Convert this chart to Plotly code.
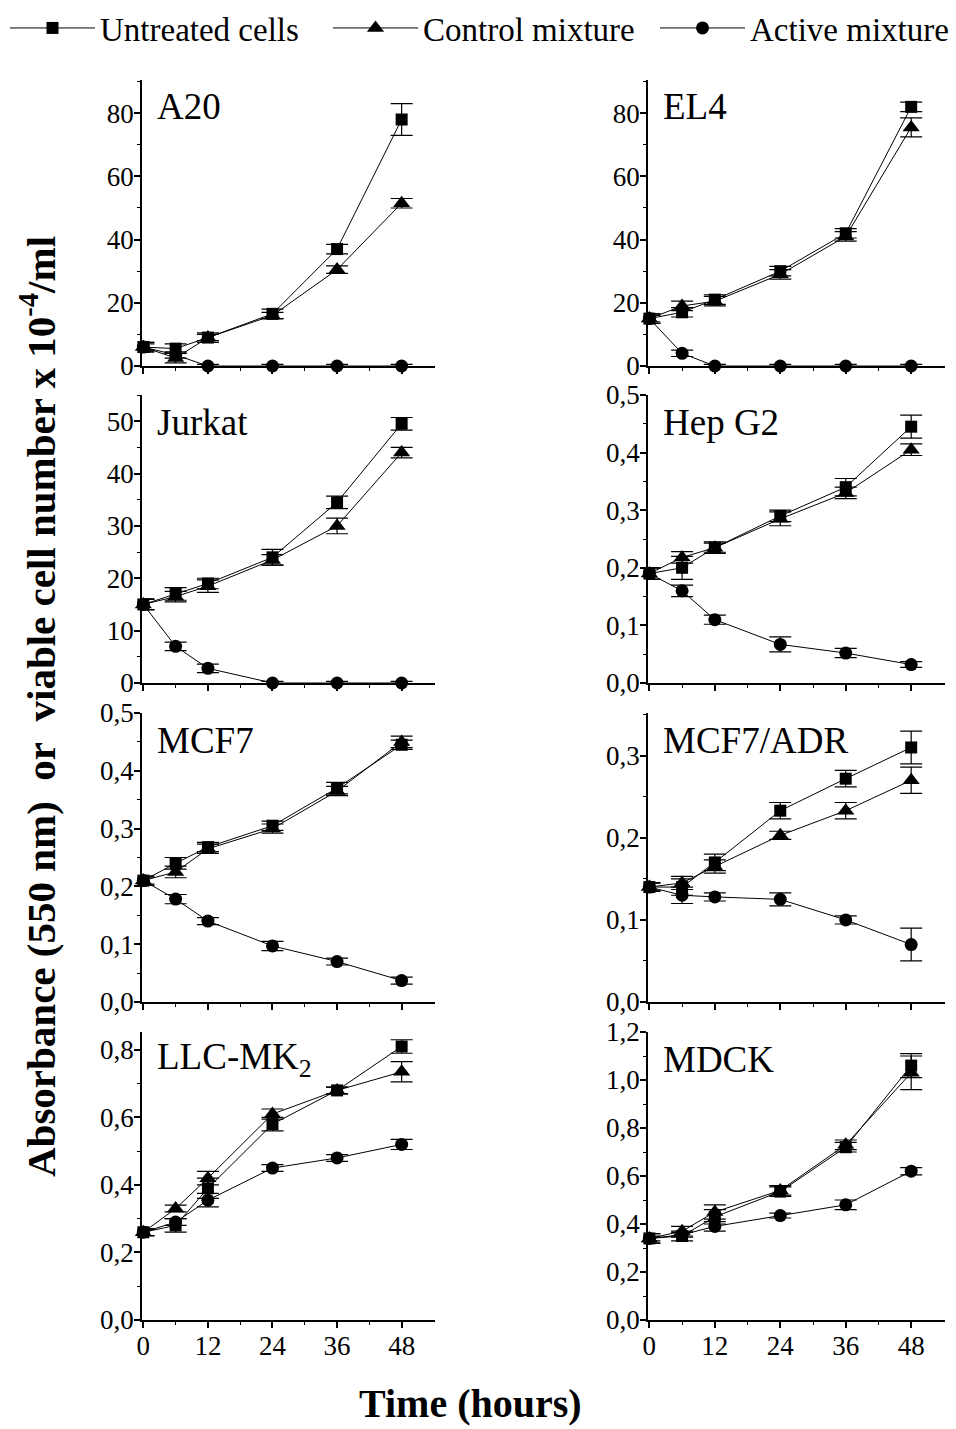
import plotly.graph_objects as go

# ---------------- data ----------------
time_h = [0, 6, 12, 24, 36, 48]
series_names = ["Untreated cells", "Control mixture", "Active mixture"]
panel_names = ["A20", "EL4", "Jurkat", "Hep G2", "MCF7", "MCF7/ADR",
               "LLC-MK<sub>2</sub>", "MDCK"]

a20_untreated = [6, 5.5, 9, 16.5, 37, 78]
a20_untreated_err = [1.5, 1.5, 1.5, 1.5, 1.5, 5]
a20_control = [6, 2.5, 9, 16, 30.5, 51.5]
a20_control_err = [1.5, 1.5, 1, 1, 1.2, 1.5]
a20_active = [6, 3.5, 0, 0, 0, 0]
a20_active_err = [1, 1, 0.5, 0.5, 0.5, 0.5]

el4_untreated = [15, 17, 21, 30, 42, 82]
el4_untreated_err = [1.5, 1.5, 1.5, 1.5, 1.5, 1.5]
el4_control = [15, 19, 20.5, 29, 41, 75.5]
el4_control_err = [1.5, 1.5, 1.5, 1.5, 1.5, 3]
el4_active = [15, 4, 0, 0, 0, 0]
el4_active_err = [1, 1, 0.5, 0.5, 0.5, 0.5]

jurkat_untreated = [15, 17, 19, 24, 34.5, 49.5]
jurkat_untreated_err = [1, 1.2, 1, 1.5, 1.2, 1.2]
jurkat_control = [15, 16.5, 18.5, 23.5, 30, 44]
jurkat_control_err = [1, 1, 1.2, 1, 1.5, 1]
jurkat_active = [15, 7, 2.8, 0, 0, 0]
jurkat_active_err = [1, 0.8, 0.8, 0.3, 0.3, 0.3]

hepg2_untreated = [0.19, 0.20, 0.235, 0.29, 0.34, 0.445]
hepg2_untreated_err = [0.01, 0.02, 0.008, 0.01, 0.015, 0.02]
hepg2_control = [0.19, 0.218, 0.235, 0.285, 0.33, 0.405]
hepg2_control_err = [0.01, 0.01, 0.01, 0.012, 0.01, 0.01]
hepg2_active = [0.19, 0.16, 0.11, 0.067, 0.052, 0.032]
hepg2_active_err = [0.01, 0.01, 0.008, 0.013, 0.008, 0.005]

mcf7_untreated = [0.21, 0.24, 0.268, 0.305, 0.37, 0.445]
mcf7_untreated_err = [0.008, 0.01, 0.008, 0.008, 0.01, 0.008]
mcf7_control = [0.21, 0.225, 0.265, 0.30, 0.365, 0.45]
mcf7_control_err = [0.008, 0.01, 0.008, 0.008, 0.008, 0.01]
mcf7_active = [0.21, 0.178, 0.14, 0.097, 0.07, 0.037]
mcf7_active_err = [0.006, 0.008, 0.006, 0.008, 0.006, 0.006]

mcf7adr_untreated = [0.14, 0.14, 0.17, 0.233, 0.272, 0.31]
mcf7adr_untreated_err = [0.005, 0.01, 0.01, 0.01, 0.01, 0.02]
mcf7adr_control = [0.14, 0.145, 0.165, 0.203, 0.233, 0.27]
mcf7adr_control_err = [0.005, 0.008, 0.008, 0.005, 0.01, 0.016]
mcf7adr_active = [0.14, 0.13, 0.128, 0.125, 0.10, 0.07]
mcf7adr_active_err = [0.005, 0.01, 0.005, 0.008, 0.005, 0.02]

llcmk2_untreated = [0.26, 0.28, 0.39, 0.58, 0.68, 0.81]
llcmk2_untreated_err = [0.01, 0.02, 0.03, 0.02, 0.01, 0.02]
llcmk2_control = [0.26, 0.33, 0.42, 0.61, 0.68, 0.735]
llcmk2_control_err = [0.01, 0.01, 0.02, 0.015, 0.01, 0.03]
llcmk2_active = [0.26, 0.29, 0.355, 0.45, 0.48, 0.52]
llcmk2_active_err = [0.01, 0.01, 0.02, 0.01, 0.01, 0.015]

mdck_untreated = [0.34, 0.35, 0.43, 0.535, 0.72, 1.06]
mdck_untreated_err = [0.02, 0.02, 0.03, 0.02, 0.02, 0.05]
mdck_control = [0.34, 0.37, 0.45, 0.54, 0.73, 1.03]
mdck_control_err = [0.02, 0.02, 0.03, 0.02, 0.02, 0.07]
mdck_active = [0.34, 0.355, 0.39, 0.435, 0.48, 0.62]
mdck_active_err = [0.01, 0.01, 0.02, 0.01, 0.02, 0.015]

x_ticks = [0, 12, 24, 36, 48]
x_minor_ticks = [6, 18, 30, 42]

# y axis settings per panel
y_max = [90.5, 90.5, 55, 0.5, 0.5, 0.352, 0.853, 1.2]
y_dtick = [20, 20, 10, 0.1, 0.1, 0.1, 0.2, 0.2]
y_minor = [10, 10, 5, 0.05, 0.05, 0.05, 0.1, 0.1]
y_format = ["d", "d", "d", ".1f", ".1f", ".1f", ".1f", ".1f"]

panels = [
    [(a20_untreated, a20_untreated_err), (a20_control, a20_control_err), (a20_active, a20_active_err)],
    [(el4_untreated, el4_untreated_err), (el4_control, el4_control_err), (el4_active, el4_active_err)],
    [(jurkat_untreated, jurkat_untreated_err), (jurkat_control, jurkat_control_err), (jurkat_active, jurkat_active_err)],
    [(hepg2_untreated, hepg2_untreated_err), (hepg2_control, hepg2_control_err), (hepg2_active, hepg2_active_err)],
    [(mcf7_untreated, mcf7_untreated_err), (mcf7_control, mcf7_control_err), (mcf7_active, mcf7_active_err)],
    [(mcf7adr_untreated, mcf7adr_untreated_err), (mcf7adr_control, mcf7adr_control_err), (mcf7adr_active, mcf7adr_active_err)],
    [(llcmk2_untreated, llcmk2_untreated_err), (llcmk2_control, llcmk2_control_err), (llcmk2_active, llcmk2_active_err)],
    [(mdck_untreated, mdck_untreated_err), (mdck_control, mdck_control_err), (mdck_active, mdck_active_err)],
]

# ---------------- layout geometry ----------------
W, H = 956, 1429
col_px = [(142, 435), (648, 945)]
row_px = [(80, 366), (395, 683), (713, 1002), (1032, 1320)]
legend_left_px = [5, 328, 655]
legend_ids = ["legend", "legend2", "legend3"]

FONT = "Liberation Serif"
symbols = ["square", "triangle-up", "circle"]
sizes = [12, 15, 13]

fig = go.Figure()
layout = {}
annotations = []

for i, name in enumerate(panel_names):
    r, c = divmod(i, 2)
    k = i + 1
    xa = "x" if k == 1 else f"x{k}"
    ya = "y" if k == 1 else f"y{k}"
    for s in range(3):
        vals, errs = panels[i][s]
        fig.add_trace(go.Scatter(
            x=time_h, y=vals, xaxis=xa, yaxis=ya,
            mode="lines+markers", name=series_names[s],
            legend=legend_ids[s], legendgroup=series_names[s],
            showlegend=(i == 0),
            line=dict(color="black", width=1),
            marker=dict(symbol=symbols[s], size=sizes[s], color="black"),
            error_y=dict(type="data", array=errs, color="black",
                         thickness=1.2, width=11),
            cliponaxis=False,
        ))
    x0, x1 = col_px[c]
    y0, y1 = row_px[r]
    layout[f"xaxis{k}" if k > 1 else "xaxis"] = dict(
        domain=[x0 / W, x1 / W], range=[-0.25, 54.2], anchor=ya,
        showline=True, linecolor="black", linewidth=1.5,
        ticks="outside", ticklen=6, tickwidth=1.5, tickcolor="black",
        tickvals=x_ticks, showticklabels=(r == 3), ticklabelstandoff=-5,
        minor=dict(tickvals=x_minor_ticks, ticks="outside", ticklen=3,
                   tickwidth=1.2, tickcolor="black"),
        showgrid=False, zeroline=False,
        tickfont=dict(family=FONT, size=27, color="black"),
    )
    layout[f"yaxis{k}" if k > 1 else "yaxis"] = dict(
        domain=[1 - y1 / H, 1 - y0 / H], range=[0, y_max[i]], anchor=xa,
        showline=True, linecolor="black", linewidth=1.5,
        ticks="outside", ticklen=6, tickwidth=1.5, tickcolor="black",
        dtick=y_dtick[i], tick0=0, tickformat=y_format[i],
        ticklabelstandoff=-5,
        minor=dict(dtick=y_minor[i], ticks="outside", ticklen=3,
                   tickwidth=1.2, tickcolor="black"),
        showgrid=False, zeroline=False,
        tickfont=dict(family=FONT, size=27, color="black"),
    )
    annotations.append(dict(
        text=name, xref=f"{xa} domain", yref=f"{ya} domain",
        x=0.045, y=1, xanchor="left", yanchor="middle", yshift=-27,
        showarrow=False, font=dict(family=FONT, size=37, color="black"),
    ))

annotations.append(dict(
    text="<b>Time (hours)</b>", xref="paper", yref="paper",
    x=470 / W, y=0, xanchor="center", yanchor="bottom", yshift=1,
    showarrow=False, font=dict(family=FONT, size=40, color="black"),
))
annotations.append(dict(
    text="<b>Absorbance (550 nm)\u00a0\u00a0or\u00a0\u00a0viable cell number x 10<sup>-4</sup>/ml</b>",
    xref="paper", yref="paper", x=38 / W, y=1 - 707 / H,
    xanchor="center", yanchor="middle", textangle=-90,
    showarrow=False, font=dict(family=FONT, size=41, color="black"),
))

legends = {}
for s, lid in enumerate(legend_ids):
    legends[lid] = dict(
        orientation="h", x=legend_left_px[s] / W, y=1 - 28 / H,
        xanchor="left", yanchor="middle", itemwidth=85,
        font=dict(family=FONT, size=33, color="black"),
        bgcolor="rgba(0,0,0,0)", borderwidth=0,
    )

fig.update_layout(
    width=W, height=H,
    margin=dict(l=0, r=0, t=0, b=0, autoexpand=False),
    paper_bgcolor="white", plot_bgcolor="white",
    separators=",.",
    showlegend=True,
    annotations=annotations,
    **legends,
    **layout,
)

fig.write_html("out.html")
